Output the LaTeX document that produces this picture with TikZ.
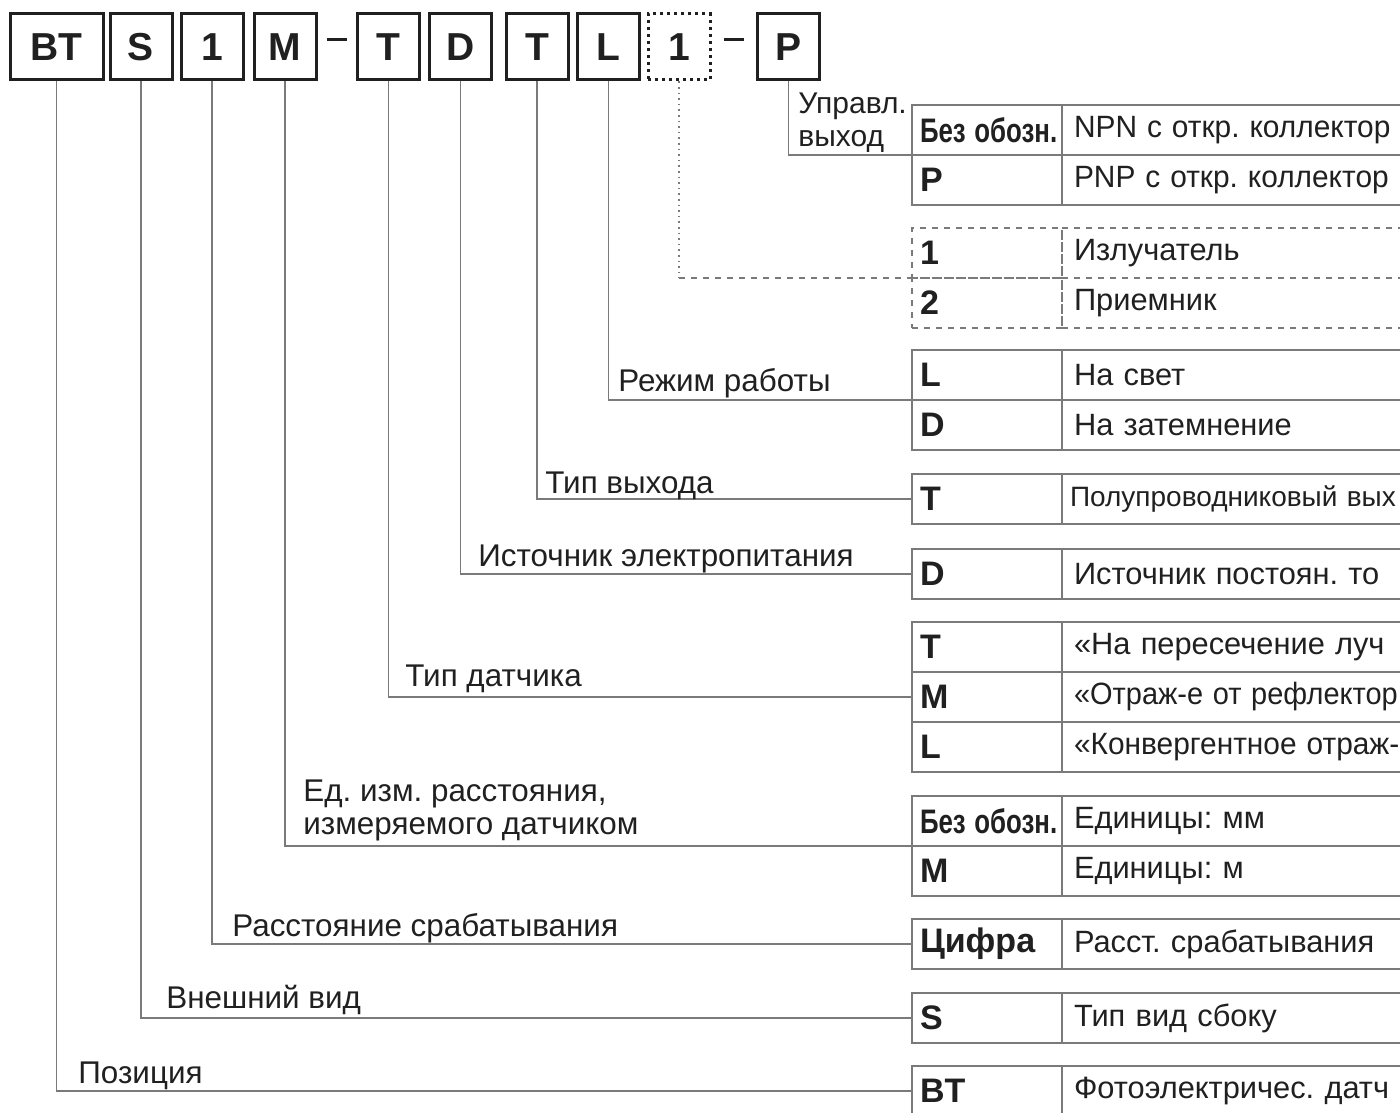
\documentclass[tikz,border=0pt]{standalone}
\usepackage{fontspec}
\setmainfont{Liberation Sans}
\usetikzlibrary{positioning,calc}
\definecolor{linegray}{HTML}{7A7A7A}
\definecolor{inkgray}{HTML}{202020}
\frenchspacing

\begin{document}
\begin{tikzpicture}[x=0.5pt,y=-0.5pt]
    % Setup the styles for the boxes, cells and lines
        \tikzset{code box/.style={draw=inkgray,
                                  line width=1.5pt,
                                  minimum width=31pt,
                                  minimum height=33pt,
                                  inner sep=0pt,
                                  text=inkgray,
                                  font=\fontsize{19.5}{22}\selectfont\bfseries},
                 key cell/.style={draw=linegray,
                                  line width=1pt,
                                  minimum height=25pt,
                                  text width=67pt,
                                  inner xsep=4pt, inner ysep=0pt,
                                  outer sep=0pt,
                                  align=left,
                                  text=inkgray,
                                  font=\fontsize{17}{19}\selectfont\bfseries},
                 text cell/.style={draw=linegray,
                                  line width=1pt,
                                  minimum height=25pt,
                                  text width=250pt,
                                  inner xsep=6pt, inner ysep=0pt,
                                  outer sep=0pt,
                                  align=left,
                                  text=inkgray,
                                  font=\fontsize{15.4}{19}\selectfont},
                 label text/.style={inner sep=0pt,
                                  align=left,
                                  text=inkgray,
                                  font=\fontsize{15.7}{16.5}\selectfont},
                 link/.style={draw=linegray, line width=0.8pt}}
        \useasboundingbox (0,0) rectangle (1400,1112);
        \clip (0,0) rectangle (1400,1112);
        % Draw the code boxes
        \node[code box, minimum width=46.5pt] at (56.5,47) (pos)    {BT};
        \node[code box] at (141,47)   (look)   {S};
        \node[code box] at (212,47)   (range)  {1};
        \node[code box] at (285,47)   (unit)   {M};
        \node[code box] at (388.5,47) (sensor) {T};
        \node[code box] at (460.5,47) (power)  {D};
        \node[code box] at (537,47)   (output) {T};
        \node[code box] at (608.5,47) (mode)   {L};
        \node[code box, dotted] at (679,47) (pair) {1};
        \node[code box] at (788.5,47) (ctrl)   {P};
        \draw[inkgray, line width=1.5pt] ($(unit.east)!0.5!(sensor.west)+(-10,-7)$) -- ($(unit.east)!0.5!(sensor.west)+(10,-7)$);
        \draw[inkgray, line width=1.5pt] ($(pair.east)!0.5!(ctrl.west)+(-10,-7)$) -- ($(pair.east)!0.5!(ctrl.west)+(10,-7)$);
        % Draw the tables
        \node[key cell] at (987,130) (ctrl1k) {\scalebox{0.76}[1]{Без обозн.}};
        \node[text cell, right=0pt of ctrl1k] (ctrl1d) {\scalebox{0.97}[1]{NPN с откр. коллектор}};
        \node[key cell, below=0pt of ctrl1k] (ctrl2k) {P};
        \node[text cell, right=0pt of ctrl2k] (ctrl2d) {\scalebox{0.97}[1]{PNP с откр. коллектор}};
        \node[key cell, dashed] at (987,253) (pair1k) {1};
        \node[text cell, dashed, right=0pt of pair1k] (pair1d) {Излучатель};
        \node[key cell, dashed, below=0pt of pair1k] (pair2k) {2};
        \node[text cell, dashed, right=0pt of pair2k] (pair2d) {Приемник};
        \node[key cell] at (987,375) (mode1k) {L};
        \node[text cell, right=0pt of mode1k] (mode1d) {На свет};
        \node[key cell, below=0pt of mode1k] (mode2k) {D};
        \node[text cell, right=0pt of mode2k] (mode2d) {На затемнение};
        \node[key cell] at (987,499) (output1k) {T};
        \node[text cell, inner xsep=4pt, font=\fontsize{14}{16}\selectfont, right=0pt of output1k] (output1d) {Полупроводниковый вых};
        \node[key cell] at (987,574) (power1k) {D};
        \node[text cell, right=0pt of power1k] (power1d) {Источник постоян. то};
        \node[key cell] at (987,647) (sensor1k) {T};
        \node[text cell, right=0pt of sensor1k] (sensor1d) {«На пересечение луч};
        \node[key cell, below=0pt of sensor1k] (sensor2k) {M};
        \node[text cell, right=0pt of sensor2k] (sensor2d) {\scalebox{0.94}[1]{«Отраж-е от рефлектор}};
        \node[key cell, below=0pt of sensor2k] (sensor3k) {L};
        \node[text cell, right=0pt of sensor3k] (sensor3d) {\scalebox{0.97}[1]{«Конвергентное отраж-}};
        \node[key cell] at (987,821) (unit1k) {\scalebox{0.76}[1]{Без обозн.}};
        \node[text cell, right=0pt of unit1k] (unit1d) {Единицы: мм};
        \node[key cell, below=0pt of unit1k] (unit2k) {M};
        \node[text cell, right=0pt of unit2k] (unit2d) {Единицы: м};
        \node[key cell] at (987,944) (range1k) {Цифра};
        \node[text cell, right=0pt of range1k] (range1d) {Расст. срабатывания};
        \node[key cell] at (987,1018) (look1k) {S};
        \node[text cell, right=0pt of look1k] (look1d) {Тип вид сбоку};
        \node[key cell] at (987,1091) (pos1k) {BT};
        \node[text cell, right=0pt of pos1k] (pos1d) {Фотоэлектричес. датч};
        % Connect the boxes with the tables
        \draw[link] (pos.south) |- (pos1k.west);
        \draw[link] (look.south) |- (look1k.west);
        \draw[link] (range.south) |- (range1k.west);
        \draw[link] (unit.south) |- (unit1k.south west);
        \draw[link] (sensor.south) |- (sensor2k.west);
        \draw[link] (power.south) |- (power1k.west);
        \draw[link] (output.south) |- (output1k.west);
        \draw[link] (mode.south) |- (mode1k.south west);
        \draw[link, dotted] (pair.south) -- (pair.south |- pair1k.south west);
        \draw[link, dashed] (pair.south |- pair1k.south west) -- (pair1k.south west);
        \draw[link] (ctrl.south) |- (ctrl1k.south west);
        % Label the lines
        \node[label text, anchor=base west] at (78,1083)  (poslabel)    {Позиция};
        \node[label text, anchor=base west] at (166,1008) (looklabel)   {Внешний вид};
        \node[label text, anchor=base west] at (232,936)  (rangelabel)  {Расстояние срабатывания};
        \node[label text, anchor=north west] at (303,779) (unitlabel)   {Ед. изм. расстояния,\\измеряемого датчиком};
        \node[label text, anchor=base west] at (405,686)  (sensorlabel) {Тип датчика};
        \node[label text, anchor=base west] at (478,566)  (powerlabel)  {Источник электропитания};
        \node[label text, anchor=base west] at (545,493)  (outputlabel) {Тип выхода};
        \node[label text, anchor=base west] at (618,391)  (modelabel)   {Режим работы};
        \node[label text, anchor=north west, font=\fontsize{15}{16.5}\selectfont] at (798,92) (ctrllabel) {Управл.\\выход};
\end{tikzpicture}
\end{document}
